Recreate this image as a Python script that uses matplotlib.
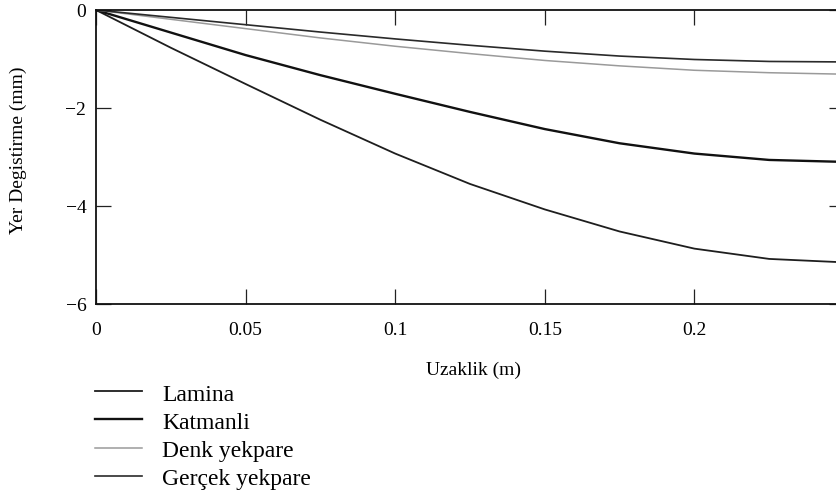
import matplotlib
matplotlib.use("Agg")
import matplotlib.pyplot as plt

plt.rcParams["font.family"] = ["Liberation Serif", "DejaVu Serif"]

# distance along the beam (m) and deflection (mm) of each model
distance = [0, 0.025, 0.05, 0.075, 0.1, 0.125, 0.15, 0.175, 0.2, 0.225, 0.25]
lamina = [0, -0.77, -1.51, -2.24, -2.93, -3.55, -4.07, -4.52, -4.87, -5.08, -5.15]
katmanli = [0, -0.46, -0.92, -1.33, -1.71, -2.08, -2.43, -2.72, -2.93, -3.06, -3.10]
denk_yekpare = [0, -0.19, -0.38, -0.57, -0.74, -0.89, -1.03, -1.14, -1.23, -1.28, -1.31]
gercek_yekpare = [0, -0.15, -0.30, -0.45, -0.59, -0.72, -0.84, -0.94, -1.01, -1.05, -1.06]

x_ticks = [0, 0.05, 0.1, 0.15, 0.2]
x_tick_labels = ["0", "0.05", "0.1", "0.15", "0.2"]
y_ticks = [-6, -4, -2, 0]

W, H = 837, 502
fig = plt.figure(figsize=(W / 100, H / 100), dpi=100)
# right spine sits just past the right edge of the figure
ax = fig.add_axes([96 / W, (H - 305) / H, 748 / W, 294 / H])

ax.plot(distance, lamina, color="#1e1e1e", lw=1.3, label="Lamina")
ax.plot(distance, katmanli, color="#111111", lw=1.7, label="Katmanli")
ax.plot(distance, denk_yekpare, color="#9a9a9a", lw=1.1, label="Denk yekpare")
ax.plot(distance, gercek_yekpare, color="#2a2a2a", lw=1.2, label="Gerçek yekpare")

ax.set_xlim(0, 0.25)
ax.set_ylim(-6, 0)
ax.set_xticks(x_ticks)
ax.set_xticklabels(x_tick_labels)
ax.set_yticks(y_ticks)
ax.tick_params(direction="in", length=11, width=0.9, top=True, right=True,
               labelsize=14, color="#222222")
ax.tick_params(axis="x", pad=12)
ax.tick_params(axis="y", pad=7)
for s in ax.spines.values():
    s.set_linewidth(1.3)
    s.set_color("#111111")
    s.set_zorder(5)

fig.text(474 / W, 1 - 370 / H, "Uzaklik (m)", ha="center", va="center", fontsize=14)
fig.text(18 / W, 1 - 150 / H, "Yer Degistirme (mm)", ha="center", va="center",
         rotation=90, fontsize=14)

fig.legend(loc="upper left", bbox_to_anchor=(95 / W, 1 - 384 / H), frameon=False,
           fontsize=17, handlelength=2.0, handletextpad=0.85, labelspacing=0.28,
           borderpad=0, borderaxespad=0)

fig.savefig("out.png", dpi=100)
